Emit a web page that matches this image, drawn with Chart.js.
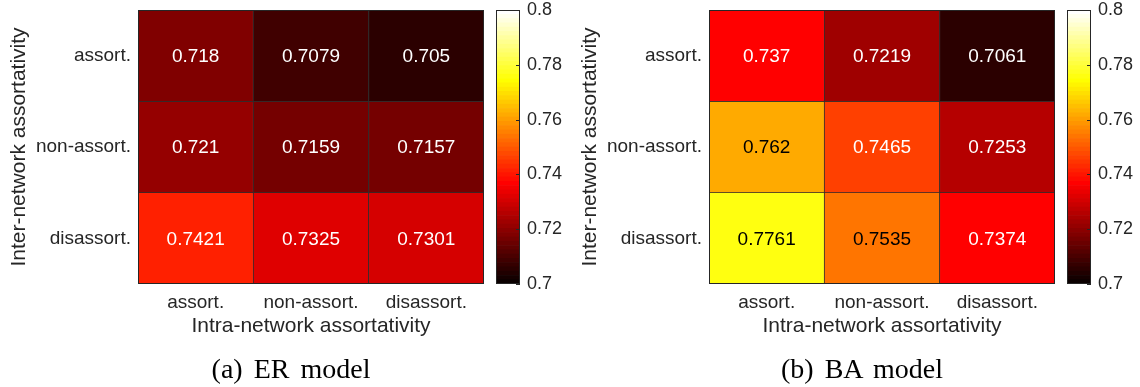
<!DOCTYPE html>
<html>
<head>
<meta charset="utf-8">
<script src="https://cdn.jsdelivr.net/npm/chart.js@4.4.1/dist/chart.umd.min.js"></script>
<style>
  body { margin: 0; background: #fff; width: 1140px; height: 387px; position: relative; overflow: hidden; }
  .box { position: absolute; top: 0; height: 387px; }
  .cap { position: absolute; top: 353px; width: 582px; text-align: center; line-height: 32px;
         font: 28px "Liberation Serif", serif; word-spacing: 4px; color: #000; white-space: nowrap; }
</style>
</head>
<body>
<div class="box" style="left:0;width:490px"><canvas id="heatER"></canvas></div>
<div class="box" style="left:470px;width:100px"><canvas id="cbarER"></canvas></div>
<div class="cap" style="left:0">(a) ER model</div>

<div class="box" style="left:571px;width:490px"><canvas id="heatBA"></canvas></div>
<div class="box" style="left:1041px;width:100px"><canvas id="cbarBA"></canvas></div>
<div class="cap" style="left:571px">(b) BA model</div>

<script>
// ===== データ =====
const intraLabels = ['assort.', 'non-assort.', 'disassort.'];   // 列（x）
const interLabels = ['assort.', 'non-assort.', 'disassort.'];   // 行（y）

const erValues = [
  [0.718,  0.7079, 0.705 ],
  [0.721,  0.7159, 0.7157],
  [0.7421, 0.7325, 0.7301]
];
const baValues = [
  [0.737,  0.7219, 0.7061],
  [0.762,  0.7465, 0.7253],
  [0.7761, 0.7535, 0.7374]
];

const cMin = 0.7;
const cMax = 0.8;
const cStep = 0.02;
const cLevels = 64;

const SANS = '"Liberation Sans", Arial, sans-serif';
const INK = '#262626';

// ===== hot カラーマップ (MATLAB hot(64)) =====
function hotMap(m) {
  const n = Math.floor(3 / 8 * m);
  const out = [];
  for (let i = 1; i <= m; i++) {
    const r = Math.min(i / n, 1);
    const g = i <= n ? 0 : Math.min((i - n) / n, 1);
    const b = i <= 2 * n ? 0 : (i - 2 * n) / (m - 2 * n);
    out.push([r, g, b]);
  }
  return out;
}
const HOT = hotMap(cLevels);

function hotIndex(v) {
  let k = Math.floor((v - cMin) / (cMax - cMin) * cLevels);
  return Math.max(0, Math.min(cLevels - 1, k));
}
function rgb(c) {
  return `rgb(${Math.round(c[0] * 255)},${Math.round(c[1] * 255)},${Math.round(c[2] * 255)})`;
}
function hotColor(v) { return rgb(HOT[hotIndex(v)]); }
function textColor(v) {
  const c = HOT[hotIndex(v)];
  return (0.299 * c[0] + 0.587 * c[1] + 0.114 * c[2]) > 0.5 ? '#000' : '#fff';
}

// ===== プラグイン =====
const cellText = {
  id: 'cellText',
  afterDatasetsDraw(chart, args, opts) {
    const { ctx } = chart;
    ctx.save();
    ctx.font = '19px ' + SANS;
    ctx.textAlign = 'center';
    ctx.textBaseline = 'middle';
    chart.data.datasets.forEach((ds, r) => {
      chart.getDatasetMeta(r).data.forEach((bar, c) => {
        const v = opts.values[r][c];
        ctx.fillStyle = textColor(v);
        ctx.fillText(String(v), bar.x, (bar.y + bar.base) / 2 + 1);
      });
    });
    ctx.restore();
  }
};

const frame = {
  id: 'frame',
  afterDatasetsDraw(chart) {
    const { ctx, chartArea: a } = chart;
    ctx.save();
    ctx.strokeStyle = INK;
    ctx.lineWidth = 1;
    ctx.strokeRect(Math.round(a.left) + 0.5, Math.round(a.top) + 0.5,
                   Math.round(a.right - a.left) - 1, Math.round(a.bottom - a.top) - 1);
    ctx.restore();
  }
};

// カラーバー右端の内向き目盛り
const innerTicks = {
  id: 'innerTicks',
  afterDatasetsDraw(chart) {
    const { ctx, chartArea: a } = chart;
    const y = chart.scales.y;
    ctx.save();
    ctx.strokeStyle = INK;
    ctx.lineWidth = 1;
    y.ticks.forEach(t => {
      const py = Math.round(y.getPixelForValue(t.value)) + 0.5;
      ctx.beginPath();
      ctx.moveTo(a.right - 4, py);
      ctx.lineTo(a.right, py);
      ctx.stroke();
    });
    ctx.restore();
  }
};

// ===== ヒートマップ =====
function initHeatmap(id, values) {
  new Chart(document.getElementById(id), {
    type: 'bar',
    data: {
      labels: intraLabels,
      datasets: values.map((row, r) => ({
        data: row.map(() => [r, r + 1]),
        backgroundColor: row.map(v => hotColor(v)),
        borderColor: '#2e2e2e',
        borderWidth: 0.75,
        borderSkipped: false,
        grouped: false,
        barPercentage: 1,
        categoryPercentage: 1
      }))
    },
    plugins: [cellText, frame],
    options: {
      responsive: true,
      maintainAspectRatio: false,
      animation: false,
      layout: { padding: { top: 10, right: 6, left: 0, bottom: 0 } },
      plugins: {
        legend: { display: false },
        tooltip: { enabled: false },
        cellText: { values }
      },
      scales: {
        x: {
          grid: { display: false, drawTicks: false },
          border: { display: false },
          ticks: { font: { family: SANS, size: 19 }, color: INK, padding: 7 },
          title: { display: true, text: 'Intra-network assortativity', color: INK,
                   font: { family: SANS, size: 21 }, padding: { top: 0, bottom: 48 } },
          afterFit: s => { s.height = 103; }
        },
        y: {
          type: 'linear',
          min: 0,
          max: 3,
          reverse: true,
          grid: { display: false, drawTicks: false },
          border: { display: false },
          afterBuildTicks: s => { s.ticks = interLabels.map((_, i) => ({ value: i + 0.5 })); },
          ticks: {
            font: { family: SANS, size: 19, lineHeight: 0.3 }, color: INK, padding: 7,
            callback: (v, i) => interLabels[i]
          },
          title: { display: true, text: 'Inter-network assortativity', color: INK,
                   font: { family: SANS, size: 21 }, padding: { top: 7, bottom: 0 } },
          afterFit: s => { s.width = 138; }
        }
      }
    }
  });
}

// ===== カラーバー =====
function initColorbar(id) {
  const span = (cMax - cMin) / cLevels;
  new Chart(document.getElementById(id), {
    type: 'bar',
    data: {
      labels: [''],
      datasets: HOT.map((c, i) => ({
        data: [[cMin + i * span, cMin + (i + 1) * span]],
        backgroundColor: rgb(c),
        borderWidth: 0,
        grouped: false,
        barPercentage: 1,
        categoryPercentage: 1
      }))
    },
    plugins: [frame, innerTicks],
    options: {
      responsive: true,
      maintainAspectRatio: false,
      animation: false,
      layout: { padding: { top: 10, right: 0, left: 26, bottom: 103 } },
      plugins: { legend: { display: false }, tooltip: { enabled: false } },
      scales: {
        x: { display: false },
        y: {
          position: 'right',
          min: cMin,
          max: cMax,
          grid: { display: false, drawTicks: false },
          border: { display: false },
          ticks: {
            stepSize: cStep, font: { family: SANS, size: 18, lineHeight: 0.3 }, color: INK, padding: 7,
            callback: v => String(+v.toFixed(2))
          },
          afterFit: s => { s.width = 50; }
        }
      }
    }
  });
}

document.addEventListener('DOMContentLoaded', () => {
  initHeatmap('heatER', erValues);
  initColorbar('cbarER');
  initHeatmap('heatBA', baValues);
  initColorbar('cbarBA');
});
</script>
</body>
</html>
